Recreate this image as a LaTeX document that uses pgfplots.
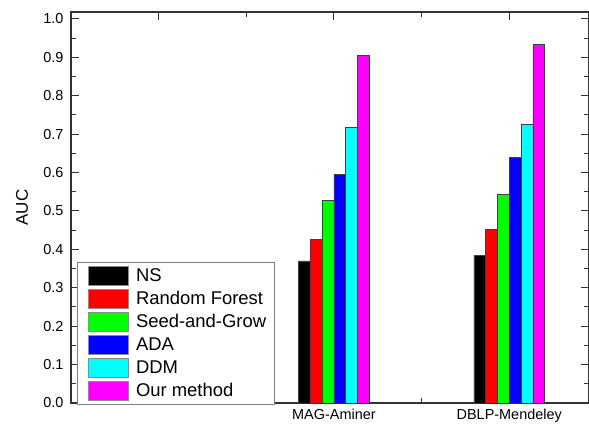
\documentclass[border=0pt]{standalone}
\usepackage{pgfplots}
\pgfplotsset{compat=1.18}
\usepackage{fontspec}
\setmainfont{Liberation Sans}
\definecolor{cBlack}{RGB}{0,0,0}
\definecolor{cRed}{RGB}{255,0,0}
\definecolor{cGreen}{RGB}{0,255,0}
\definecolor{cBlue}{RGB}{0,0,255}
\definecolor{cCyan}{RGB}{0,255,255}
\definecolor{cMagenta}{RGB}{255,0,255}
\begin{document}
\begin{tikzpicture}
\pgfplotsset{
  mybar/.style={draw=black!75, line width=0.6bp, fill=#1,
    legend image code/.code={\path (0bp,0bp) (50bp,0bp);\draw[draw=black!45, line width=0.6bp, fill=#1] (3bp,-9.5bp) rectangle (43bp,9.5bp);}},
}
\begin{axis}[
  at={(0,0)}, anchor=south west,
  scale only axis, width=518bp, height=391bp,
  xmin=0.5, xmax=3.455, ymin=0, ymax=1.018,
  ybar=0pt, bar width=11.8bp,
  xtick={1,2,3}, xticklabels={,MAG-Aminer,DBLP-Mendeley},
  minor xtick={1.5,2.5},
  ytick={0,0.1,0.2,0.3,0.4,0.5,0.6,0.7,0.8,0.9,1.0},
  minor ytick={0.05,0.15,0.25,0.35,0.45,0.55,0.65,0.75,0.85,0.95},
  yticklabel style={/pgf/number format/fixed, /pgf/number format/fixed zerofill, /pgf/number format/precision=1, xshift=-4bp},
  /pgf/number format/assume math mode=true,
  tick align=inside,
  major tick length=8bp, minor tick length=5bp,
  axis line style={draw=black!80, line width=1.2bp},
  every tick/.style={draw=black!80, line width=1bp},
  tick label style={font=\fontsize{14.5}{17}\selectfont},
  xticklabel style={yshift=-3bp},
  ylabel={AUC},
  ylabel style={font=\fontsize{17}{20}\selectfont, at={(axis description cs:-0.0946,0.5)}, anchor=center},
  legend cell align=left,
  legend style={at={(axis description cs:0.0116,0.3606)}, anchor=north west,
    draw=black!50, line width=0.8bp, font=\fontsize{18.5}{22}\selectfont,
    inner xsep=8bp, inner ysep=2bp, row sep=0bp,
    nodes={inner xsep=0bp, inner ysep=1.75bp, text height=15bp, text depth=4.5bp}},
]
\addplot[mybar=cBlack] coordinates {(2,0.370) (3,0.385)};
\addplot[mybar=cRed] coordinates {(2,0.425) (3,0.452)};
\addplot[mybar=cGreen] coordinates {(2,0.527) (3,0.544)};
\addplot[mybar=cBlue] coordinates {(2,0.596) (3,0.640)};
\addplot[mybar=cCyan] coordinates {(2,0.719) (3,0.725)};
\addplot[mybar=cMagenta] coordinates {(2,0.904) (3,0.934)};
\legend{NS,Random Forest,Seed-and-Grow,ADA,DDM,Our method}
\end{axis}
\pgfresetboundingbox
\path (-71bp,-24bp) rectangle (518bp,403bp);
\end{tikzpicture}
\end{document}
